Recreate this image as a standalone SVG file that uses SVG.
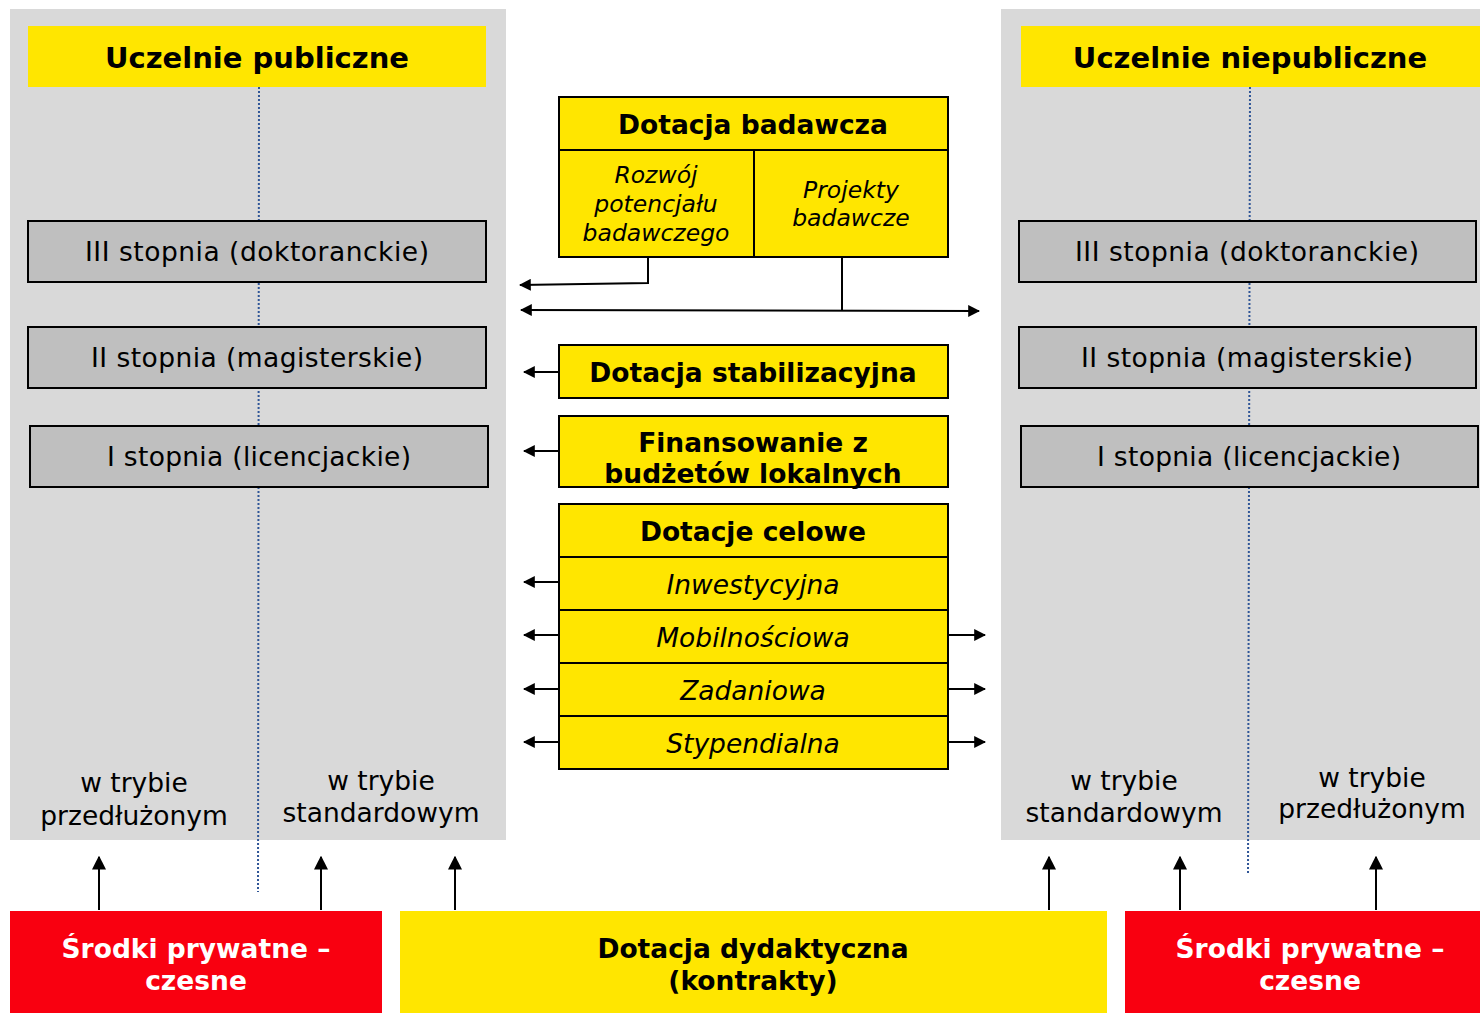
<svg xmlns="http://www.w3.org/2000/svg" width="1480" height="1013" viewBox="0 0 1480 1013">
<defs>
<style>
.panel{fill:#d9d9d9}
.hdr{fill:#ffe600}
.lvl{fill:#bfbfbf;stroke:#000;stroke-width:2}
.yb{fill:#ffe600;stroke:#000;stroke-width:2}
.red{fill:#f90010}
.yel{fill:#ffe600}
.dot{stroke:#2f5597;stroke-width:2;stroke-dasharray:2 2;fill:none}
.ln{stroke:#000;stroke-width:2;fill:none}
text{font-family:"DejaVu Sans",Verdana,sans-serif;text-anchor:middle;fill:#000}
.b{font-weight:bold}
.i{font-style:italic}
.h{font-size:29px;font-weight:bold}
.t25{font-size:26.5px}
.t26{font-size:26.5px}
.t22{font-size:23.5px}
.w{fill:#fff}
</style>
<marker id="ah" viewBox="0 0 10 10" refX="9" refY="5" markerWidth="6" markerHeight="6" orient="auto-start-reverse" markerUnits="strokeWidth">
<path d="M0,0 L10,5 L0,10 z" fill="#000"/>
</marker>
<marker id="ahb" viewBox="0 0 10 10" refX="9" refY="5" markerWidth="7" markerHeight="7" orient="auto-start-reverse" markerUnits="strokeWidth">
<path d="M0,0 L10,5 L0,10 z" fill="#000"/>
</marker>
</defs>

<g id="panel-public">
<rect class="panel" x="10" y="9" width="496" height="831"/>
<rect class="hdr" x="28" y="26" width="458" height="61"/>
<text class="h" x="257" y="68">Uczelnie publiczne</text>
</g>
<g id="panel-private">
<rect class="panel" x="1001" y="9" width="479" height="831"/>
<rect class="hdr" x="1021" y="26" width="459" height="61"/>
<text class="h" x="1250" y="68">Uczelnie niepubliczne</text>
</g>

<g id="dividers">
<line class="dot" x1="259" y1="87" x2="258" y2="892"/>
<line class="dot" x1="1250" y1="87" x2="1248" y2="875"/>
</g>

<g id="pub-iii"><rect class="lvl" x="28" y="221" width="458" height="61"/><text class="t25" x="257" y="261" textLength="344" lengthAdjust="spacing">III stopnia (doktoranckie)</text></g>
<g id="pub-ii"><rect class="lvl" x="28" y="327" width="458" height="61"/><text class="t25" x="257" y="367" textLength="332" lengthAdjust="spacing">II stopnia (magisterskie)</text></g>
<g id="pub-i"><rect class="lvl" x="30" y="426" width="458" height="61"/><text class="t25" x="259" y="466" textLength="304" lengthAdjust="spacing">I stopnia (licencjackie)</text></g>

<g id="prv-iii"><rect class="lvl" x="1019" y="221" width="457" height="61"/><text class="t25" x="1247" y="261" textLength="344" lengthAdjust="spacing">III stopnia (doktoranckie)</text></g>
<g id="prv-ii"><rect class="lvl" x="1019" y="327" width="457" height="61"/><text class="t25" x="1247" y="367" textLength="332" lengthAdjust="spacing">II stopnia (magisterskie)</text></g>
<g id="prv-i"><rect class="lvl" x="1021" y="426" width="457" height="61"/><text class="t25" x="1249" y="466" textLength="304" lengthAdjust="spacing">I stopnia (licencjackie)</text></g>

<g id="mode-pub-ext"><text class="t25" x="134" y="792">w trybie</text><text class="t25" x="134" y="825">przedłużonym</text></g>
<g id="mode-pub-std"><text class="t25" x="381" y="790">w trybie</text><text class="t25" x="381" y="822">standardowym</text></g>
<g id="mode-prv-std"><text class="t25" x="1124" y="790">w trybie</text><text class="t25" x="1124" y="822">standardowym</text></g>
<g id="mode-prv-ext"><text class="t25" x="1372" y="787">w trybie</text><text class="t25" x="1372" y="818">przedłużonym</text></g>

<g id="dotacja-badawcza">
<rect class="yb" x="559" y="97" width="389" height="160"/>
<line class="ln" x1="559" y1="150" x2="948" y2="150"/>
<line class="ln" x1="754" y1="150" x2="754" y2="257"/>
<text class="t26 b" x="753" y="134">Dotacja badawcza</text>
<text class="t22 i" x="656" y="183">Rozwój</text>
<text class="t22 i" x="656" y="212">potencjału</text>
<text class="t22 i" x="656" y="241">badawczego</text>
<text class="t22 i" x="851" y="198">Projekty</text>
<text class="t22 i" x="851" y="226">badawcze</text>
</g>

<g id="dotacja-stabilizacyjna">
<rect class="yb" x="559" y="345" width="389" height="53"/>
<text class="t26 b" x="753" y="382">Dotacja stabilizacyjna</text>
</g>

<g id="finansowanie">
<rect class="yb" x="559" y="416" width="389" height="71"/>
<text class="t26 b" x="753" y="452">Finansowanie z</text>
<text class="t26 b" x="753" y="483">budżetów lokalnych</text>
</g>

<g id="dotacje-celowe">
<rect class="yb" x="559" y="504" width="389" height="265"/>
<line class="ln" x1="559" y1="557" x2="948" y2="557"/>
<line class="ln" x1="559" y1="610" x2="948" y2="610"/>
<line class="ln" x1="559" y1="663" x2="948" y2="663"/>
<line class="ln" x1="559" y1="716" x2="948" y2="716"/>
<text class="t26 b" x="753" y="541">Dotacje celowe</text>
<text class="t25 i" x="753" y="594">Inwestycyjna</text>
<text class="t25 i" x="753" y="647">Mobilnościowa</text>
<text class="t25 i" x="753" y="700">Zadaniowa</text>
<text class="t25 i" x="753" y="753">Stypendialna</text>
</g>

<g id="srodki-pub">
<rect class="red" x="10" y="911" width="372" height="102"/>
<text class="t26 b w" x="196" y="958">Środki prywatne –</text>
<text class="t26 b w" x="196" y="990">czesne</text>
</g>
<g id="dotacja-dydaktyczna">
<rect class="yel" x="400" y="911" width="707" height="102"/>
<text class="t26 b" x="753" y="958">Dotacja dydaktyczna</text>
<text class="t26 b" x="753" y="990">(kontrakty)</text>
</g>
<g id="srodki-prv">
<rect class="red" x="1125" y="911" width="355" height="102"/>
<text class="t26 b w" x="1310" y="958">Środki prywatne –</text>
<text class="t26 b w" x="1310" y="990">czesne</text>
</g>

<g id="connectors">
<polyline class="ln" points="648,257 648,283 520,285" marker-end="url(#ah)"/>
<line class="ln" x1="521" y1="310" x2="979" y2="311" marker-start="url(#ah)" marker-end="url(#ah)"/>
<line class="ln" x1="842" y1="257" x2="842" y2="310"/>
<line class="ln" x1="559" y1="372" x2="524" y2="372" marker-end="url(#ah)"/>
<line class="ln" x1="559" y1="451" x2="524" y2="451" marker-end="url(#ah)"/>
<line class="ln" x1="559" y1="582" x2="524" y2="582" marker-end="url(#ah)"/>
<line class="ln" x1="559" y1="635" x2="524" y2="635" marker-end="url(#ah)"/>
<line class="ln" x1="559" y1="689" x2="524" y2="689" marker-end="url(#ah)"/>
<line class="ln" x1="559" y1="742" x2="524" y2="742" marker-end="url(#ah)"/>
<line class="ln" x1="948" y1="635" x2="985" y2="635" marker-end="url(#ah)"/>
<line class="ln" x1="948" y1="689" x2="985" y2="689" marker-end="url(#ah)"/>
<line class="ln" x1="948" y1="742" x2="985" y2="742" marker-end="url(#ah)"/>
<line class="ln" x1="99" y1="910" x2="99" y2="857" marker-end="url(#ahb)"/>
<line class="ln" x1="321" y1="910" x2="321" y2="857" marker-end="url(#ahb)"/>
<line class="ln" x1="455" y1="910" x2="455" y2="857" marker-end="url(#ahb)"/>
<line class="ln" x1="1049" y1="910" x2="1049" y2="857" marker-end="url(#ahb)"/>
<line class="ln" x1="1180" y1="910" x2="1180" y2="857" marker-end="url(#ahb)"/>
<line class="ln" x1="1376" y1="910" x2="1376" y2="857" marker-end="url(#ahb)"/>
</g>
</svg>
